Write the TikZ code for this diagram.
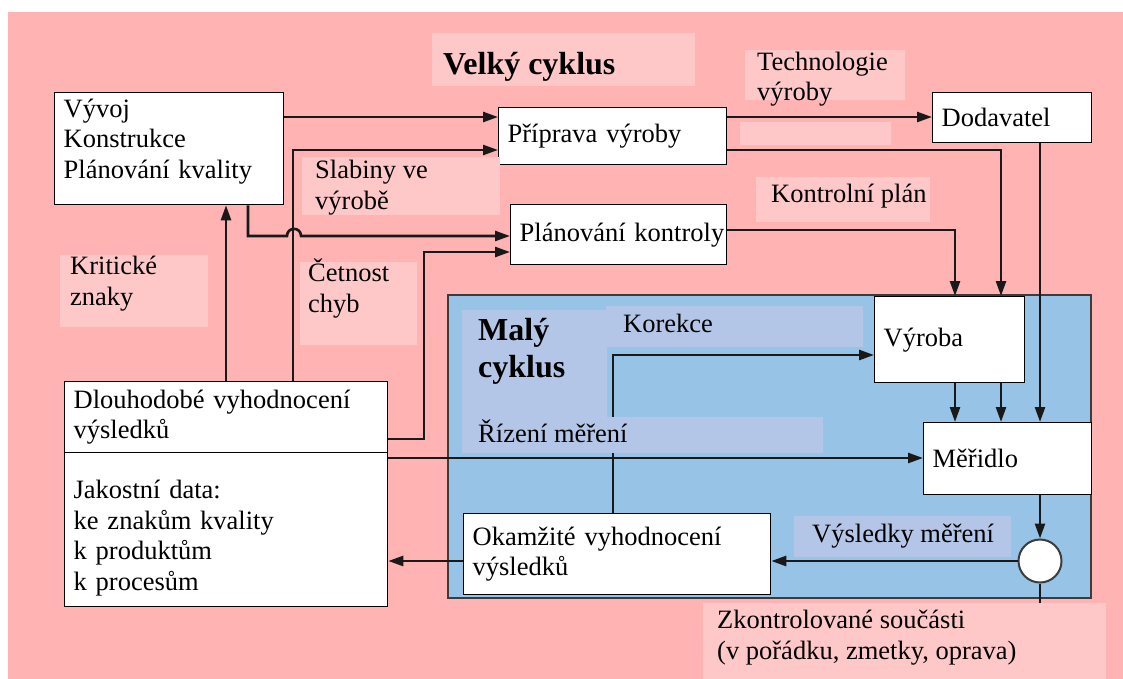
\documentclass[tikz,border=0pt]{standalone}
\usepackage{fontspec}
\setmainfont{Liberation Serif}
\usetikzlibrary{arrows.meta}
\definecolor{pinkbg}{RGB}{255,179,179}
\definecolor{pinkpatch}{RGB}{255,200,200}
\definecolor{bluebg}{RGB}{151,196,230}
\definecolor{bluepatch}{RGB}{180,198,231}
\definecolor{ink}{RGB}{25,25,25}
\definecolor{frame}{RGB}{60,60,60}
\begin{document}
\begin{tikzpicture}[x=1pt,y=-1pt,
  txt/.style={font=\fontsize{26.5}{30.5}\selectfont, inner sep=0pt},
  bold/.style={font=\fontsize{32}{37}\selectfont\bfseries, inner sep=0pt, align=left},
  box/.style={draw=black, line width=1.3pt, fill=white, anchor=north west,
    font=\fontsize{26.5}{30.5}\selectfont, align=left, inner xsep=9pt, inner ysep=0pt},
  ln/.style={draw=ink, line width=2.6pt},
  arr/.style={ln, -{Triangle[length=15pt,width=10pt]}},
  ppatch/.style={fill=pinkpatch},
  bpatch/.style={fill=bluepatch}
]
\useasboundingbox (0,0) rectangle (1123,679);
\fill[white] (0,0) rectangle (1123,679);
\fill[pinkbg] (8,12) rectangle (1123,679);
% small cycle area
\draw[fill=bluebg, draw=frame, line width=2.5pt] (448,295) rectangle (1091,598);

% level / column coordinates
\coordinate (L117) at (0,117);
\coordinate (L150) at (0,150);
\coordinate (L230) at (0,230);
\coordinate (L236) at (0,236);
\coordinate (L252) at (0,252);
\coordinate (L355) at (0,355);
\coordinate (L439) at (0,439);
\coordinate (L458) at (0,458);
\coordinate (L561) at (0,561);
\coordinate (X226) at (226,0);
\coordinate (X248) at (248,0);
\coordinate (X287) at (287,0);
\coordinate (X293) at (293,0);
\coordinate (X301) at (301,0);
\coordinate (X424) at (424,0);
\coordinate (X613) at (613,0);
\coordinate (X955) at (955,0);
\coordinate (X1001) at (1001,0);
\coordinate (X1040) at (1040,0);
\coordinate (stub) at (1040,603);

% boxes
\node[box, minimum width=229pt, minimum height=112pt, text width=211pt, text depth=81pt] (vyvoj) at (54,92)
  {\mbox{Vývoj}\\\mbox{Konstrukce}\\\mbox{Plánování kvality}};
\node[box, minimum width=228pt, minimum height=57pt, text width=210pt] (pri) at (498,107)
  {\mbox{Příprava výroby}};
\node[box, minimum width=216pt, minimum height=60pt, text width=198pt] (plan) at (510,204)
  {\mbox{Plánování kontroly}};
\node[box, minimum width=159pt, minimum height=50pt, text width=141pt] (dod) at (932,92)
  {\mbox{Dodavatel}};
\node[box, minimum width=150pt, minimum height=86pt, text width=132pt] (vyroba) at (874,296)
  {\mbox{Výroba}};
\node[box, minimum width=168pt, minimum height=72pt, text width=150pt] (mer) at (923,422)
  {\mbox{Měřidlo}};
\node[box, minimum width=307pt, minimum height=81pt, text width=289pt] (okam) at (463,513)
  {\mbox{Okamžité vyhodnocení}\\\mbox{výsledků}};
\node[box, minimum width=323pt, minimum height=71pt, text width=305pt] (dl1) at (64,381)
  {\mbox{Dlouhodobé vyhodnocení}\\\mbox{výsledků}};
\node[box, minimum width=323pt, minimum height=154pt, text width=305pt, text height=35pt] (dl2) at (64,452)
  {\mbox{Jakostní data:}\\\mbox{ke znakům kvality}\\\mbox{k produktům}\\\mbox{k procesům}};
\node[circle, draw=frame, line width=2pt, fill=white, minimum size=43pt, inner sep=0pt] (circ) at (1040,561) {};

% connectors
\draw[arr] (vyvoj.east |- L117) -- (pri.west |- L117);
\draw[arr] (pri.east |- L117) -- (dod.west |- L117);
\draw[arr] (pri.east |- L150) -| (vyroba.north -| X1001);
\draw[arr] (plan.east |- L230) -| (vyroba.north -| X955);
\draw[arr] (dod.south -| X1040) -- (mer.north -| X1040);
\draw[arr] (vyroba.south -| X955) -- (mer.north -| X955);
\draw[arr] (vyroba.south -| X1001) -- (mer.north -| X1001);
\draw[arr] (vyvoj.south -| X248) -- (X248 |- L236) -- (X287 |- L236)
  .. controls (287,226.5) and (301,226.5) .. (X301 |- L236) -- (plan.west |- L236);
\draw[arr] (dl1.north -| X226) -- (vyvoj.south -| X226);
\draw[arr] (dl1.north -| X293) |- (pri.west |- L150);
\draw[arr] (dl1.east |- L439) -- (X424 |- L439) -- (X424 |- L252) -- (plan.west |- L252);
\draw[arr] (dl2.east |- L458) -- (mer.west |- L458);
\draw[arr] (okam.west |- L561) -- (dl2.east |- L561);
\draw[arr] (circ.west) -- (okam.east |- circ.west);
\draw[arr] (mer.south -| X1040) -- (circ.north);
\draw[ln] (circ.south) -- (stub);
\draw[arr] (okam.north -| X613) |- (vyroba.west |- L355);

% label patches
\fill[ppatch] (432,33) rectangle (695,86);
\fill[ppatch] (745,50) rectangle (905,100);
\fill[ppatch] (740,122) rectangle (891,145);
\fill[ppatch] (756,177) rectangle (930,222);
\fill[ppatch] (302,157) rectangle (500,215);
\fill[ppatch] (60,255) rectangle (208,327);
\fill[ppatch] (300,262) rectangle (417,345);
\fill[ppatch] (703,603) rectangle (1106,679);
\fill[bpatch] (462,310) rectangle (607,417);
\fill[bpatch] (606,306) rectangle (863,347);
\fill[bpatch] (462,417) rectangle (823,453);
\fill[bpatch] (794,516) rectangle (1011,557);

% labels (base = baseline of the last line)
\node[bold, anchor=base west] (tvelky) at (443,75) {Velký cyklus};
\node[txt, anchor=base west, align=left] (ttech) at (757,101) {Technologie\\výroby};
\node[txt, anchor=base west] (tkp) at (771,202) {Kontrolní plán};
\node[txt, anchor=base west, align=left] (tslab) at (315,209) {Slabiny ve\\výrobě};
\node[txt, anchor=base west, align=left] (tkrit) at (70,305) {Kritické\\znaky};
\node[txt, anchor=base west, align=left] (tcet) at (308,312) {Četnost\\chyb};
\node[bold, anchor=base west] (tmaly) at (478,377) {Malý\\cyklus};
\node[txt, anchor=base west] (tkor) at (623,332) {Korekce};
\node[txt, anchor=base west] (trizeni) at (478,442) {Řízení měření};
\node[txt, anchor=base west] (tvysl) at (812,542) {Výsledky měření};
\node[txt, anchor=base west, align=left] (tzk) at (717,659) {Zkontrolované součásti\\(v pořádku, zmetky, oprava)};
\end{tikzpicture}
\end{document}
